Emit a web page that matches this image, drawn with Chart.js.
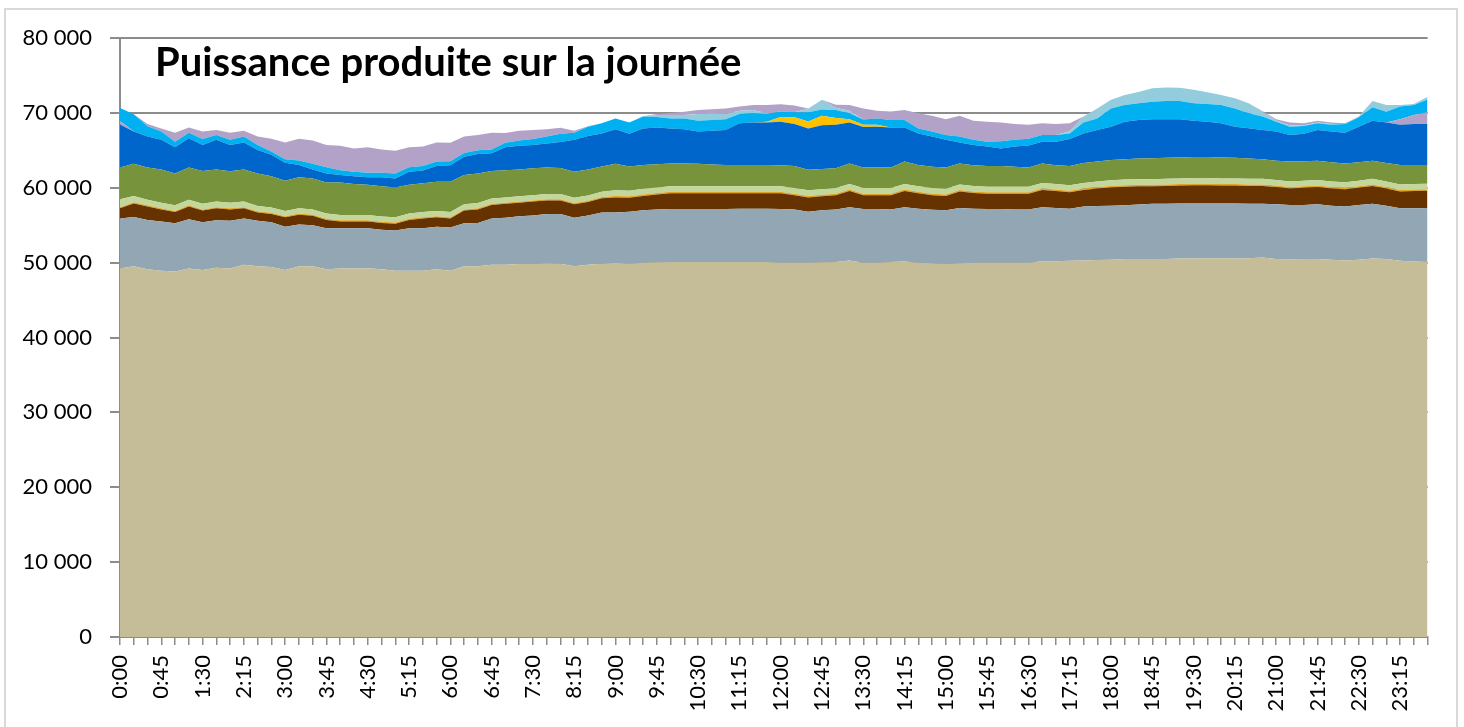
<!DOCTYPE html>
<html>
<head>
<meta charset="utf-8">
<script src="https://cdn.jsdelivr.net/npm/chart.js@4.4.1/dist/chart.umd.min.js"></script>
<style>
html,body{margin:0;padding:0;background:#fff;overflow:hidden}
#wrap{position:relative;width:1464px;height:727px;background:#fff}
#frame{position:absolute;left:4px;top:8px;width:1454px;height:760px;border:2px solid #D9D9D9;box-sizing:border-box}
#chartBox{position:absolute;left:0;top:0;width:1464px;height:727px}
#title{position:absolute;left:155px;top:41px;font:bold 40px Lato,sans-serif;line-height:1;color:#000;white-space:nowrap}
</style>
</head>
<body>
<div id="wrap">
  <div id="frame"></div>
  <div id="chartBox"><canvas id="c"></canvas></div>
  <div id="title">Puissance produite sur la journée</div>
</div>
<script>
// Categories: quarter-hours of the day
const heures = [];
for (let h = 0; h < 24; h++) for (let m = 0; m < 60; m += 15) heures.push(h + ':' + String(m).padStart(2, '0'));

const yTicks = [0, 10000, 20000, 30000, 40000, 50000, 60000, 70000, 80000];

// Series values (MW), stacked bottom to top
const nucleaire = [49200,49500,49100,48900,48800,49200,49000,49300,49200,49700,49500,49400,
 49000,49500,49500,49100,49200,49200,49250,49100,48900,48900,48900,49100,
 48900,49500,49500,49700,49700,49800,49800,49900,49850,49500,49700,49850,
 50000,49850,50000,50050,50100,50100,50100,50100,50100,50100,50100,50100,
 50000,50000,50000,50050,50100,50300,50000,50000,50100,50150,50000,49900,
 49800,49900,50000,50000,50000,50000,50000,50200,50200,50250,50300,50350,
 50400,50500,50500,50500,50500,50550,50550,50600,50600,50550,50600,50700,
 50500,50450,50500,50500,50400,50300,50400,50550,50500,50250,50150,50100];

const gaz = [6700,6600,6600,6600,6450,6600,6400,6350,6400,6200,6100,6000,
 5800,5600,5500,5500,5400,5400,5350,5300,5400,5700,5700,5700,
 5800,5750,5800,6200,6300,6400,6500,6600,6650,6500,6600,6850,
 6700,6950,7000,7050,7050,7050,7050,7050,7050,7100,7100,7100,
 7150,7100,6800,6950,7000,7100,7150,7150,7000,7250,7200,7150,
 7200,7400,7200,7150,7150,7100,7100,7200,7100,6950,7200,7200,
 7200,7150,7250,7350,7350,7350,7350,7300,7300,7350,7250,7150,
 7300,7250,7200,7300,7200,7200,7300,7300,7100,7000,7100,7200];

const charbon = [1350,1800,1800,1600,1500,1700,1550,1600,1500,1350,1100,1100,
 1250,1300,1250,1100,900,900,900,900,900,1100,1300,1250,
 1200,1700,1800,1800,1850,1800,1850,1800,1800,1800,1800,1900,
 2000,1850,1900,2000,2100,2100,2100,2100,2100,2050,2050,2050,
 2100,1900,1900,1850,1900,2150,1850,1850,1900,2150,2050,1950,
 1900,2200,2100,2050,2050,2100,2100,2300,2250,2200,2200,2350,
 2450,2500,2450,2350,2400,2400,2450,2450,2400,2400,2400,2400,
 2300,2200,2300,2300,2300,2300,2300,2400,2300,2250,2300,2300];

const fioul = [150,150,150,150,150,150,150,150,150,150,150,150,
 150,150,150,150,150,150,150,150,150,150,150,150,
 150,150,150,150,150,150,150,150,150,150,150,150,
 200,200,200,200,200,200,200,200,200,200,200,200,
 200,200,200,200,200,200,200,200,200,200,200,200,
 200,200,200,200,200,200,200,200,200,200,200,200,
 200,200,200,200,200,200,200,200,200,200,200,200,
 200,200,200,200,200,200,200,200,200,200,200,200];

const bioenergies = [1050,850,750,750,750,750,750,750,750,750,700,700,
 700,700,700,700,700,700,700,700,700,700,700,700,
 700,700,700,700,700,700,700,700,700,700,700,700,
 750,750,750,750,750,750,750,750,750,750,750,750,
 750,750,750,750,750,750,750,750,750,750,750,750,
 750,750,750,750,750,750,750,750,750,750,750,750,
 750,750,750,750,750,750,750,750,750,750,750,750,
 750,750,750,750,750,750,750,750,750,750,750,750];

const filEau = [4250,4300,4300,4450,4250,4300,4400,4300,4200,4300,4350,4200,
 4050,4150,4150,4150,4350,4150,4050,4050,4000,3850,3850,3900,
 4050,3900,3950,3700,3650,3600,3600,3550,3500,3500,3500,3400,
 3550,3250,3200,3100,3050,3050,3000,2900,2850,2850,2850,2850,
 2800,2950,2750,2700,2650,2750,2750,2750,2750,3000,2850,2850,
 2850,2800,2750,2750,2750,2650,2550,2600,2500,2550,2650,2650,
 2700,2700,2750,2800,2800,2800,2800,2800,2800,2750,2700,2600,
 2550,2650,2600,2550,2550,2500,2450,2400,2450,2600,2550,2500];

const lacs = [5750,4300,4150,3950,3500,3900,3450,3950,3500,3600,3150,2850,
 2400,1650,1200,1200,1000,1050,1000,1200,1200,1750,1700,2100,
 2200,2450,2600,2350,3050,3150,3100,3200,3450,4250,4450,4400,
 4600,4350,4850,4900,4650,4550,4300,4500,4650,5550,5650,5650,
 5800,5600,5500,5850,5800,5450,5400,5450,5350,4550,4200,4050,
 3700,2800,2700,2600,2350,2700,2950,2900,3150,3600,3950,4200,
 4450,5000,5150,5200,5150,5100,4850,4700,4550,4150,4050,3900,
 3900,3550,3650,4100,4100,4100,4750,5350,5400,5350,5450,5450];

const eolienBas = [450,0,0,0,0,0,0,0,0,0,0,0,
 0,0,0,0,0,0,0,0,0,0,0,0,
 0,0,0,0,0,0,0,0,0,0,0,0,
 0,0,0,0,0,0,0,0,0,0,0,0,
 0,0,0,0,0,0,0,0,0,0,0,0,
 0,0,0,0,0,0,0,0,0,0,0,0,
 0,0,0,0,0,0,0,0,0,0,0,0,
 0,0,0,0,0,0,0,0,0,750,1200,1600];

const solaire = [0,0,0,0,0,0,0,0,0,0,0,0,
 0,0,0,0,0,0,0,0,0,0,0,0,
 0,0,0,0,0,0,0,0,0,0,0,0,
 0,0,0,0,0,0,0,0,0,0,0,100,
 650,900,950,1250,900,450,300,250,0,0,0,0,
 0,0,0,0,0,0,0,0,0,0,0,0,
 0,0,0,0,0,0,0,0,0,0,0,0,
 0,0,0,0,0,0,0,0,0,0,0,0];

const step = [1750,2300,1350,1100,750,750,800,650,700,800,650,450,
 450,600,750,850,650,600,600,600,650,600,600,600,
 550,500,500,500,600,700,800,950,1100,950,1250,1350,
 1450,1500,1600,1400,1350,1450,1450,1450,1450,1250,1250,1050,
 750,700,1250,850,1100,800,700,850,1000,1000,650,650,
 650,800,700,650,950,900,900,900,900,750,1450,1550,
 2450,2250,2250,2350,2450,2450,2350,2400,2450,2450,2000,1800,
 1300,1100,1050,900,900,1150,1250,1800,1450,1700,1350,1700];

const echanges = [0,0,0,0,0,0,0,0,0,0,0,0,
 0,0,0,0,0,0,0,0,0,0,0,0,
 0,0,0,0,0,0,0,0,0,0,0,0,
 0,0,0,250,450,450,900,900,700,450,450,100,
 0,0,450,1300,300,350,0,0,0,0,0,0,
 0,0,0,0,0,0,0,0,0,300,800,1350,
 1150,1350,1500,1800,1800,1750,1800,1550,1350,1350,1350,650,
 150,150,100,100,100,0,100,850,900,200,150,350];

const eolien = [0,0,300,400,1200,700,1000,650,950,750,1150,1700,
 2250,2900,3100,2950,3250,3100,3400,3100,3050,2650,2600,2550,
 2450,2200,2050,2250,1300,1300,1200,950,800,250,50,0,
 0,0,50,150,300,450,550,550,750,550,650,1100,
 950,900,50,0,400,750,1500,1050,1150,1350,2050,2100,
 2100,2750,2550,2650,2500,2100,1850,1550,1450,1050,0,0,
 0,0,0,0,0,0,0,0,0,0,0,100,
 200,400,250,250,200,100,0,0,0,0,0,0];

const series = [
  ['Nucléaire', nucleaire, '#C4BD97'],
  ['Gaz', gaz, '#93A6B4'],
  ['Charbon', charbon, '#663300'],
  ['Fioul', fioul, '#E0A526'],
  ['Bioénergies', bioenergies, '#C3D69B'],
  ["Hydraulique fil de l'eau", filEau, '#77933C'],
  ['Hydraulique lacs', lacs, '#0066CC'],
  ['Éolien (nuit)', eolienBas, '#B3A2C7'],
  ['Solaire', solaire, '#FFC000'],
  ['STEP', step, '#00B0F0'],
  ['Échanges', echanges, '#93CDDD'],
  ['Éolien', eolien, '#B3A2C7']
];

const fmt = v => String(v).replace(/\B(?=(\d{3})+(?!\d))/g, ' ');

const datasets = series.map((s, i) => ({
  label: s[0],
  data: s[1],
  backgroundColor: s[2],
  borderColor: 'rgba(0,0,0,0)',
  borderWidth: 0,
  pointRadius: 0,
  pointHoverRadius: 0,
  tension: 0,
  fill: i === 0 ? 'origin' : '-1'
}));

new Chart(document.getElementById('c'), {
  type: 'line',
  data: { labels: heures, datasets },
  options: {
    responsive: true,
    maintainAspectRatio: false,
    animation: false,
    layout: { padding: { left: 0, right: 36, top: 38, bottom: 0 } },
    plugins: { legend: { display: false }, tooltip: { enabled: false }, title: { display: false } },
    scales: {
      x: {
        ticks: {
          autoSkip: false, maxRotation: 90, minRotation: 90, padding: 10,
          color: '#000', font: { family: 'Lato', size: 22 },
          callback: function (v, i) { return i % 3 === 0 ? this.getLabelForValue(v) : ''; }
        },
        grid: { drawOnChartArea: false, drawTicks: true, tickLength: 8, color: '#8C8C8C', lineWidth: 1.5 },
        border: { color: '#8C8C8C', width: 2 },
        afterFit: s => { s.height = 90; }
      },
      y: {
        stacked: true,
        min: 0, max: 80000,
        afterBuildTicks: s => { s.ticks = yTicks.map(v => ({ value: v })); },
        ticks: { color: '#000', font: { family: 'Lato', size: 22 }, padding: 18, callback: v => fmt(v) },
        grid: { color: '#8C8C8C', lineWidth: 2, tickLength: 10, drawTicks: true },
        border: { color: '#8C8C8C', width: 2 },
        afterFit: s => { s.width = 120; }
      }
    }
  }
});
</script>
</body>
</html>
